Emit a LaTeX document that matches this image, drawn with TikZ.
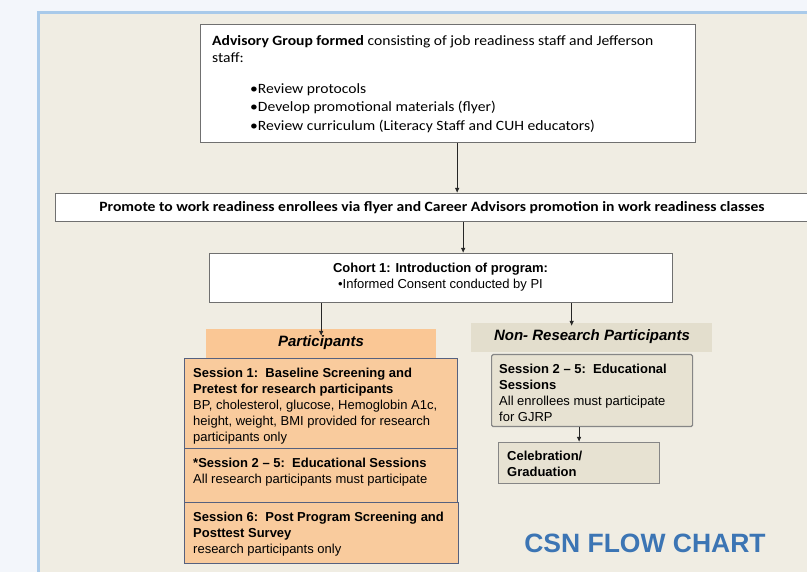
\documentclass[tikz,border=0pt]{standalone}
\usepackage{fontspec}
\setmainfont{Liberation Sans}
\newfontfamily\carl[FakeStretch=1.1]{Carlito}
\usetikzlibrary{arrows.meta}

\definecolor{pagebg}{HTML}{F3F6FB}
\definecolor{panelbg}{HTML}{F0EDE3}
\definecolor{panelrule}{HTML}{A9CAEA}
\definecolor{boxrule}{HTML}{707070}
\definecolor{peach}{HTML}{F9CB9D}
\definecolor{peachhead}{HTML}{FAC795}
\definecolor{sessrule}{HTML}{56617F}
\definecolor{sandhead}{HTML}{E3DECD}
\definecolor{sandbox}{HTML}{E7E2D2}
\definecolor{sandrule}{HTML}{868686}
\definecolor{titleblue}{HTML}{3C75B4}

\tikzset{
  frame/.style={draw=boxrule, line width=1.3pt, fill=white, inner sep=0pt, anchor=north west},
  sessbox/.style={draw=sessrule, line width=1.2pt, fill=peach, inner sep=0pt, anchor=north west},
  nrbox/.style={draw=sandrule, line width=1.2pt, fill=sandbox, rounded corners=1.5pt, inner sep=0pt, anchor=north west},
  headband/.style={inner sep=0pt, anchor=north west},
  txt/.style={inner sep=0pt, anchor=north west, align=left, font=\fontsize{13}{16}\selectfont},
  ctxt/.style={inner sep=0pt, align=center},
  arr/.style={draw=black!85, line width=0.8pt, -{Latex[length=5pt,width=4.5pt]}}
}

\begin{document}
\begin{tikzpicture}[x=1pt,y=-1pt]
  % page and panel
  \fill[pagebg] (0,0) rectangle (807,572);
  \useasboundingbox (0,0) rectangle (807,572);
  \fill[panelbg] (37,11) rectangle (812,580);
  \draw[panelrule, line width=3pt] (38.5,580) -- (38.5,12.5) -- (812,12.5);

  % advisory group
  \node[frame, minimum width=495pt, minimum height=118pt] (adv) at (200,24) {};
  \node[txt, font=\carl\fontsize{14.2}{17.5}\selectfont] (advhead) at (212,35)
    {\textbf{Advisory Group formed} consisting of job readiness staff and Jefferson\\ staff:};
  \node[txt, font=\carl\fontsize{14.2}{18.5}\selectfont] (advlist) at (250,83)
    {•Review protocols\\ •Develop promotional materials (flyer)\\ •Review curriculum (Literacy Staff and CUH educators)};

  % promotion
  \node[frame, minimum width=760pt, minimum height=28pt] (promo) at (55,193) {};
  \node[ctxt, font=\carl\bfseries\fontsize{14.2}{16}\selectfont] (promotxt) at (432,207.5)
    {Promote to work readiness enrollees via flyer and Career Advisors promotion in work readiness classes};

  % cohort
  \node[frame, minimum width=463pt, minimum height=49pt] (cohort) at (209,253) {};
  \node[ctxt, font=\fontsize{13}{15.5}\selectfont, anchor=north] (cohorttxt) at (440.5,263)
    {\textbf{Cohort 1: Introduction of program:}\\ •Informed Consent conducted by PI};

  % research participants
  \node[headband, fill=peachhead, minimum width=230pt, minimum height=30pt] (part) at (206,329) {};
  \node[ctxt, font=\bfseries\itshape\fontsize{15}{18}\selectfont] (parttxt) at (321,343) {Participants};

  \node[sessbox, minimum width=273pt, minimum height=90pt] (s1) at (184,358) {};
  \node[txt] (s1txt) at (193,367.5)
    {\textbf{Session 1:\ \ Baseline Screening and}\\ \textbf{Pretest for research participants}\\
     BP, cholesterol, glucose, Hemoglobin A1c,\\ height, weight, BMI provided for research\\ participants only};
  \node[sessbox, minimum width=273pt, minimum height=54pt] (s2) at (184,448) {};
  \node[txt] (s2txt) at (193,458)
    {\textbf{*Session 2 – 5:\ \ Educational Sessions}\\ All research participants must participate};
  \node[sessbox, minimum width=274pt, minimum height=61pt] (s6) at (184,502) {};
  \node[txt] (s6txt) at (193,512)
    {\textbf{Session 6:\ \ Post Program Screening and}\\ \textbf{Posttest Survey}\\ research participants only};

  % non-research participants
  \node[headband, fill=sandhead, minimum width=241pt, minimum height=29pt] (nr) at (471,323) {};
  \node[ctxt, font=\bfseries\itshape\fontsize{15}{18}\selectfont] (nrtxt) at (592,337) {Non- Research Participants};

  \node[nrbox, minimum width=201pt, minimum height=72pt] (nrs) at (491,354) {};
  \node[txt] (nrstxt) at (499,364)
    {\textbf{Session 2 – 5:\ \ Educational}\\ \textbf{Sessions}\\ All enrollees must participate\\ for GJRP};
  \node[nrbox, rounded corners=0pt, minimum width=161pt, minimum height=41pt] (grad) at (498,442) {};
  \node[txt] (gradtxt) at (507,451)
    {\textbf{Celebration/}\\ \textbf{Graduation}};

  % title
  \node[ctxt, font=\bfseries\fontsize{26.5}{30}\selectfont, text=titleblue] (title) at (645,543) {CSN FLOW CHART};

  % connectors
  \path (adv.south) ++(9,0) coordinate (advout);
  \draw[arr] (advout) -- (advout |- promo.north);
  \path (promo.south) ++(27.5,0) coordinate (promoout);
  \draw[arr] (promoout) -- (promoout |- cohort.north);
  \draw[arr] (cohort.south -| part.north) -- ([yshift=-7pt]part.north);
  \path (cohort.south) ++(130.5,0) coordinate (cohortout);
  \draw[arr] (cohortout) -- ([yshift=-3pt]cohortout |- nr.north);
  \draw[arr] (nrs.south -| grad.north) -- (grad.north);
\end{tikzpicture}
\end{document}
